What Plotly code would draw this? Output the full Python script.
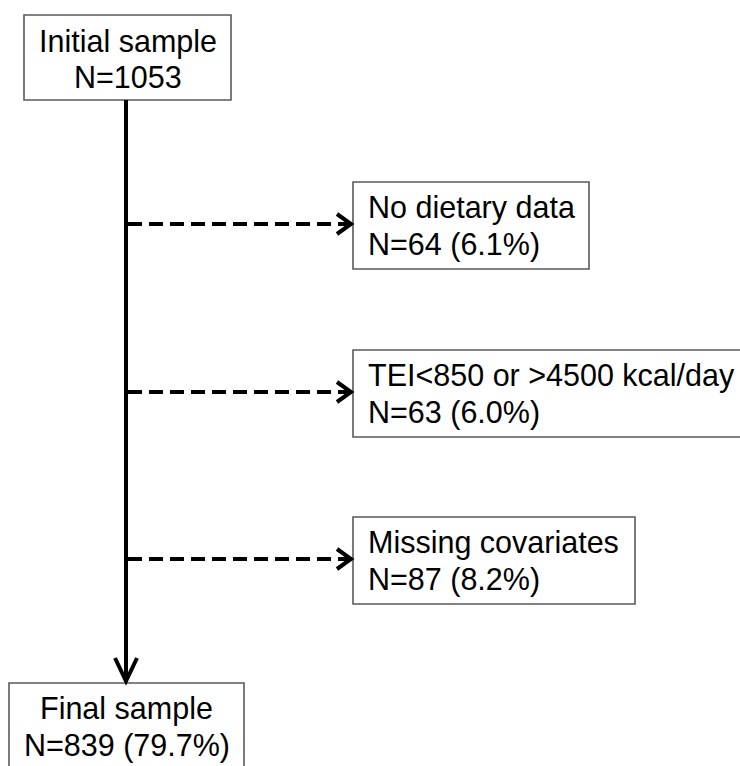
import plotly.graph_objects as go

# ---- data ----
stage_labels = ["Initial sample", "Final sample"]
stage_n = [1053, 839]
stage_pct = [None, 79.7]

excl_labels = ["No dietary data", "TEI<850 or >4500 kcal/day", "Missing covariates"]
excl_n = [64, 63, 87]
excl_pct = [6.1, 6.0, 8.2]

# ---- layout (pixel positions) ----
W, H = 740, 766
spine_x = 126
stage_boxes = [(24, 15, 231, 100), (9, 683, 244, 790)]
stage_line_y = [(41, 77), (708, 745)]
stage_font_sizes = [30.5, 30.5]
side_left = 353
side_tops = [182, 350, 517]
side_rights = [589, 746, 635]
side_h = 87

FONT_FAMILY = "Liberation Sans, Arial, sans-serif"
SIDE_FONT = dict(family=FONT_FAMILY, size=30.5, color="black")
BOX_LINE = dict(color="#5a5a5a", width=1.6)


def n_label(n, p):
    return f"N={n}" if p is None else f"N={n} ({p}%)"


shapes = []
annotations = []

# stage boxes
for (x0, y0, x1, y1), lab, n, p, (ly1, ly2), fs in zip(stage_boxes, stage_labels, stage_n, stage_pct,
                                                        stage_line_y, stage_font_sizes):
    font = dict(family=FONT_FAMILY, size=fs, color="black")
    shapes.append(dict(type="rect", x0=x0, y0=y0, x1=x1, y1=y1, line=BOX_LINE, fillcolor="white", layer="above"))
    cx = (x0 + x1) / 2
    annotations.append(dict(x=cx, y=ly1, text=lab, showarrow=False, xanchor="center", yanchor="middle", font=font))
    annotations.append(dict(x=cx, y=ly2, text=n_label(n, p), showarrow=False, xanchor="center", yanchor="middle", font=font))

# main spine
spine_top = stage_boxes[0][3]
spine_tip = stage_boxes[1][1] - 2
shapes.append(dict(type="line", x0=spine_x, y0=spine_top, x1=spine_x, y1=spine_tip - 1,
                   line=dict(color="black", width=4)))
shapes.append(dict(type="path",
                   path=f"M {spine_x-11},{spine_tip-23} L {spine_x},{spine_tip} L {spine_x+11},{spine_tip-23}",
                   line=dict(color="black", width=4)))

# exclusion boxes + dashed arrows
for top, right, lab, n, p in zip(side_tops, side_rights, excl_labels, excl_n, excl_pct):
    shapes.append(dict(type="rect", x0=side_left, y0=top, x1=right, y1=top + side_h,
                       line=BOX_LINE, fillcolor="white", layer="above"))
    ay = top + 42
    tip = side_left - 2
    shapes.append(dict(type="line", x0=spine_x + 2, y0=ay, x1=tip - 3, y1=ay,
                       line=dict(color="black", width=4, dash="14px,7px")))
    shapes.append(dict(type="path",
                       path=f"M {tip-14},{ay-10} L {tip},{ay} L {tip-14},{ay+10}",
                       line=dict(color="black", width=4)))
    annotations.append(dict(x=side_left + 13, y=top + 25, text=lab, showarrow=False,
                            xanchor="left", yanchor="middle", font=SIDE_FONT))
    annotations.append(dict(x=side_left + 13, y=top + 62, text=n_label(n, p), showarrow=False,
                            xanchor="left", yanchor="middle", font=SIDE_FONT))

fig = go.Figure()
fig.update_layout(
    width=W, height=H,
    margin=dict(l=0, r=0, t=0, b=0),
    paper_bgcolor="white", plot_bgcolor="white",
    xaxis=dict(range=[0, W], visible=False, fixedrange=True),
    yaxis=dict(range=[H, 0], visible=False, fixedrange=True),
    shapes=shapes,
    annotations=annotations,
    showlegend=False,
)
fig.write_html(
    "out.html",
    config={"displayModeBar": False},
    post_script="document.body.style.margin='0';document.body.style.overflow='hidden';",
)
